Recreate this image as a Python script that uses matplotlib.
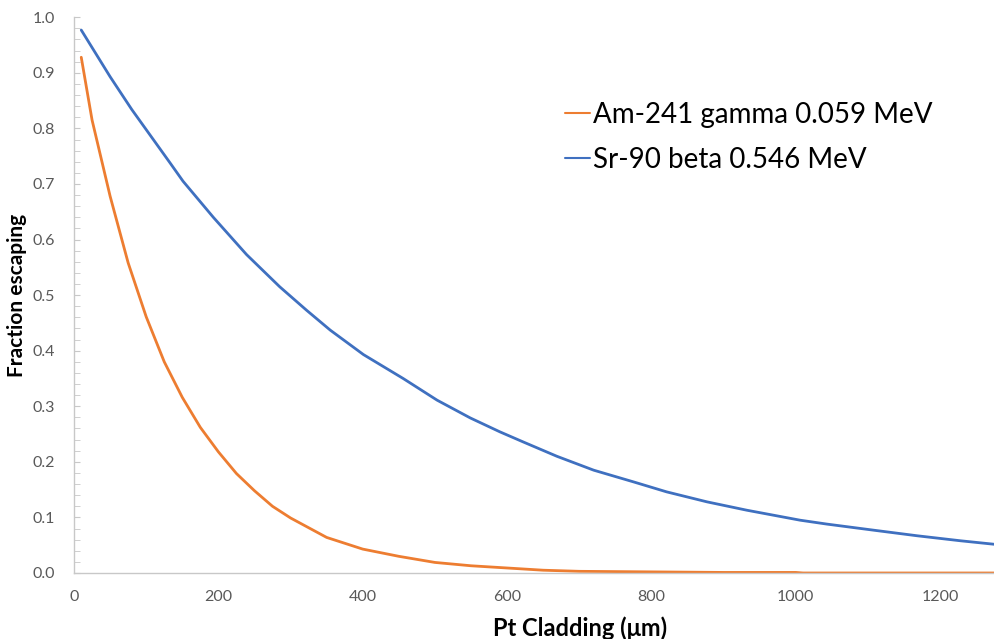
import matplotlib
matplotlib.use("Agg")
import matplotlib.pyplot as plt
from matplotlib.ticker import MultipleLocator, FormatStrFormatter

# Data
am_x = [10, 25, 50, 75, 100, 125, 150, 175, 200, 225, 250, 275, 300, 350, 400,
        450, 500, 550, 600, 650, 700, 800, 900, 1000, 1010, 1280]
am_y = [0.928, 0.815, 0.678, 0.558, 0.461, 0.380, 0.316, 0.262, 0.218, 0.179,
        0.148, 0.120, 0.099, 0.064, 0.043, 0.030, 0.019, 0.013, 0.009, 0.005,
        0.003, 0.002, 0.001, 0.001, 0.0, 0.0]

sr_x = [10, 50, 80, 133, 151, 193, 239, 285, 322, 355, 401, 456, 503, 549, 590,
        622, 669, 720, 775, 821, 877, 932, 969, 1006, 1043, 1108, 1168, 1228, 1280]
sr_y = [0.977, 0.893, 0.834, 0.738, 0.705, 0.640, 0.573, 0.515, 0.473, 0.437,
        0.393, 0.350, 0.311, 0.279, 0.254, 0.236, 0.210, 0.185, 0.164, 0.146,
        0.128, 0.113, 0.104, 0.095, 0.088, 0.077, 0.067, 0.058, 0.051]

am_label = "Am-241 gamma 0.059 MeV"
sr_label = "Sr-90 beta 0.546 MeV"
xlabel = "Pt Cladding (\u03bcm)"
ylabel = "Fraction escaping"

plt.rcParams['font.family'] = ['Lato', 'DejaVu Sans']

fig = plt.figure(figsize=(9.95, 6.39), dpi=100)
ax = fig.add_axes([0.0744, 0.1033, 0.9256, 0.8697])

ax.plot(am_x, am_y, color="#ED7D31", lw=2.0, label=am_label, solid_capstyle='round')
ax.plot(sr_x, sr_y, color="#3F70C0", lw=2.0, label=sr_label, solid_capstyle='round')

ax.set_xlim(0, 1276)
ax.set_ylim(0, 1.0)
ax.xaxis.set_major_locator(MultipleLocator(200))
ax.yaxis.set_major_locator(MultipleLocator(0.1))
ax.yaxis.set_minor_locator(MultipleLocator(0.02))
ax.yaxis.set_major_formatter(FormatStrFormatter('%.1f'))

for s in ['top', 'right']:
    ax.spines[s].set_visible(False)
for s in ['left', 'bottom']:
    ax.spines[s].set_color('#c8c8c8')
    ax.spines[s].set_linewidth(1.0)

ax.tick_params(axis='y', which='both', direction='in', length=4, color='#c8c8c8',
               labelcolor='#595959', labelsize=11.5, pad=14)
ax.tick_params(axis='x', which='both', length=0, labelcolor='#595959',
               labelsize=11.5, pad=12)

ax.set_xlabel(xlabel, fontsize=17, fontweight='bold')
ax.xaxis.set_label_coords(0.549, -0.078)
ax.set_ylabel(ylabel, fontsize=15, fontweight='bold', labelpad=4)

leg = ax.legend(loc='upper left', bbox_to_anchor=(0.533, 0.848), frameon=False,
                fontsize=20, handlelength=0.9, handletextpad=0.1, labelspacing=0.68,
                borderpad=0, borderaxespad=0)
for line in leg.get_lines():
    line.set_linewidth(1.5)

fig.savefig("out.png", dpi=100)
